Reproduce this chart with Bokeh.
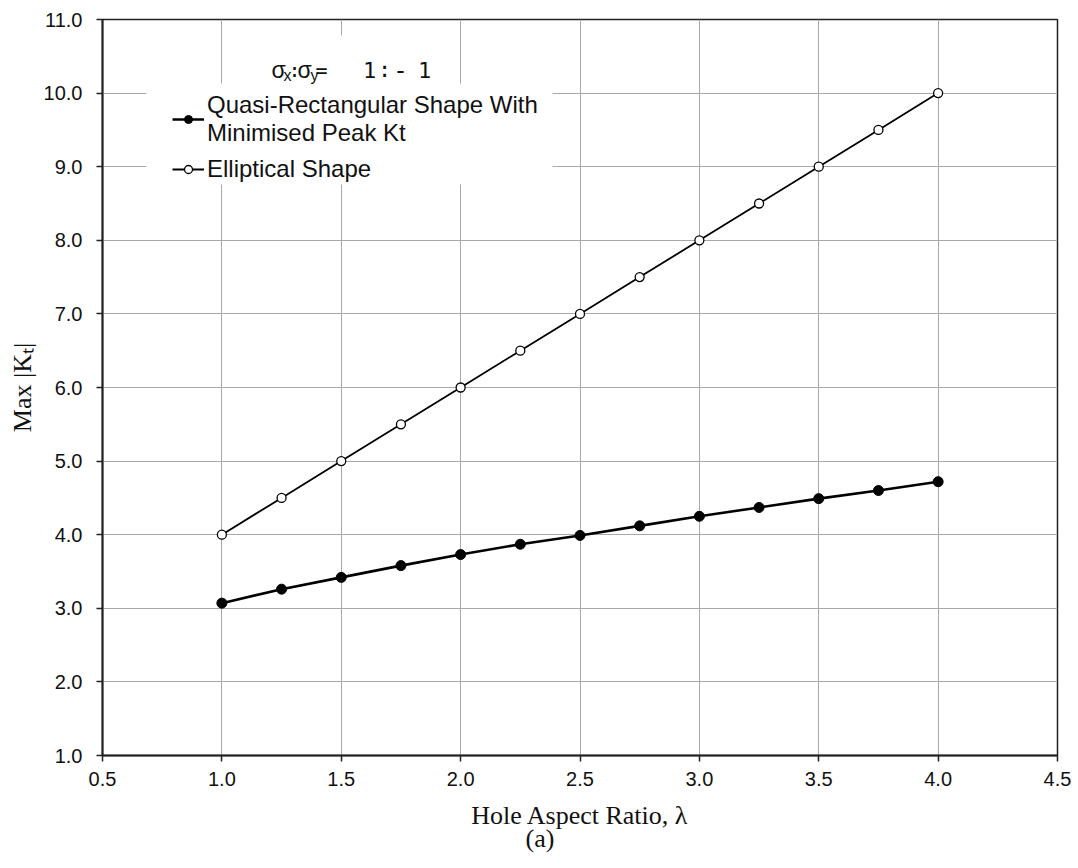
from bokeh.plotting import figure
from bokeh.models import (Label, BoxAnnotation, Legend, LegendItem, FixedTicker,
                          PrintfTickFormatter, Range1d, Title)
from bokeh.embed import file_html
from bokeh.resources import INLINE

# Hole aspect ratio values
aspect_ratio = [1.0, 1.25, 1.5, 1.75, 2.0, 2.25, 2.5, 2.75, 3.0, 3.25, 3.5, 3.75, 4.0]
# Maximum |Kt| for the optimised quasi-rectangular hole
kt_quasi_rect = [3.07, 3.26, 3.42, 3.58, 3.73, 3.87, 3.99, 4.12, 4.25, 4.37, 4.49, 4.60, 4.72]
# Maximum |Kt| for the elliptical hole
kt_elliptical = [4.0, 4.5, 5.0, 5.5, 6.0, 6.5, 7.0, 7.5, 8.0, 8.5, 9.0, 9.5, 10.0]

x_ticks = [0.5, 1.0, 1.5, 2.0, 2.5, 3.0, 3.5, 4.0, 4.5]
y_ticks = [1.0, 2.0, 3.0, 4.0, 5.0, 6.0, 7.0, 8.0, 9.0, 10.0, 11.0]

label_quasi = "Quasi-Rectangular Shape With\nMinimised Peak Kt"
label_ellip = "Elliptical Shape"
x_title = "Hole Aspect Ratio, λ"
y_title = "Max |Kₜ|"
sub_caption = "(a)"

SANS = "Liberation Sans"
SERIF = "Liberation Serif"
MONO = "DejaVu Sans Mono"

FRAME_LEFT, FRAME_BOTTOM = 102, 755


def sx(cx):
    return cx - FRAME_LEFT


def sy(cy):
    return FRAME_BOTTOM - cy


p = figure(width=1078, height=868, x_range=Range1d(0.5, 4.5), y_range=Range1d(1.0, 11.0),
           output_backend="svg", toolbar_location=None, title=None,
           min_border_left=102, min_border_right=21, min_border_top=19, min_border_bottom=113)
p.background_fill_color = "white"
p.border_fill_color = "white"
p.outline_line_color = "#222222"
p.outline_line_width = 1.5

for ax in (p.xaxis[0], p.yaxis[0]):
    ax.axis_line_color = "#222222"
    ax.axis_line_width = 2
    ax.major_tick_line_color = "#222222"
    ax.major_tick_line_width = 1.5
    ax.major_tick_out = 6
    ax.major_tick_in = 0
    ax.minor_tick_out = 0
    ax.minor_tick_in = 0
    ax.major_label_text_font = SANS
    ax.major_label_text_font_size = "20px"
    ax.major_label_text_color = "#111111"
    ax.formatter = PrintfTickFormatter(format="%.1f")
    ax.axis_label_text_font = SERIF
    ax.axis_label_text_font_size = "26px"
    ax.axis_label_text_font_style = "normal"
    ax.axis_label_text_color = "#111111"
    ax.axis_label_text_line_height = 1.0

p.xaxis.ticker = FixedTicker(ticks=x_ticks)
p.yaxis.ticker = FixedTicker(ticks=y_ticks)
p.xaxis.major_label_standoff = 10
p.yaxis.major_label_standoff = 14

p.xaxis.axis_label = x_title
p.xaxis.axis_label_standoff = 12
p.yaxis.axis_label = y_title
p.yaxis.axis_label_standoff = 4

p.add_layout(Title(text=sub_caption, align="left", offset=423, text_font=SERIF,
                   text_font_size="26px", text_font_style="normal",
                   text_line_height=0.9, text_color="#111111", standoff=-21), "below")

p.xgrid.ticker = FixedTicker(ticks=x_ticks)
p.ygrid.ticker = FixedTicker(ticks=y_ticks)
for g in (p.xgrid[0], p.ygrid[0]):
    g.grid_line_color = "#a8a8a8"
    g.grid_line_width = 1

# Data series
l_q = p.line(aspect_ratio, kt_quasi_rect, line_color="black", line_width=2.6)
s_q = p.scatter(aspect_ratio, kt_quasi_rect, size=10, fill_color="black", line_color="black")
l_e = p.line(aspect_ratio, kt_elliptical, line_color="black", line_width=1.8)
s_e = p.scatter(aspect_ratio, kt_elliptical, size=9, fill_color="white", line_color="black",
                line_width=1.3)

# White panels behind the legend and its heading
p.add_layout(BoxAnnotation(left=sx(146), right=sx(552), top=sy(83), bottom=sy(184),
                           left_units="screen", right_units="screen",
                           top_units="screen", bottom_units="screen",
                           fill_color="white", fill_alpha=1, line_color=None))
p.add_layout(BoxAnnotation(left=sx(266), right=sx(444), top=sy(35), bottom=sy(84),
                           left_units="screen", right_units="screen",
                           top_units="screen", bottom_units="screen",
                           fill_color="white", fill_alpha=1, line_color=None))

legend = Legend(items=[LegendItem(label=label_quasi, renderers=[l_q, s_q]),
                       LegendItem(label=label_ellip, renderers=[l_e, s_e])],
                location=(sx(172), sy(183)), padding=5, margin=0, spacing=8,
                glyph_width=32, glyph_height=20, label_standoff=3,
                label_text_font=SANS, label_text_font_size="24px",
                label_text_color="#111111", label_text_line_height=1.0,
                background_fill_color="white", background_fill_alpha=1.0,
                border_line_color=None)
p.add_layout(legend)


def make_text(text, x, y, font, size, align="left"):
    return Label(x=x, y=y, x_units="screen", y_units="screen", text=text,
                 text_font=font, text_font_size=size, text_align=align,
                 text_baseline="alphabetic", text_color="#111111")


# Legend heading: sigma_x : sigma_y = 1:-1
heading = [("σ", 271, 69, SANS, "23px", "left"),
           ("x", 283, 75, SANS, "16px", "left"),
           (":", 294, 69, MONO, "20px", "center"),
           ("σ", 297, 69, SANS, "23px", "left"),
           ("y", 310, 75, SANS, "16px", "left"),
           ("=", 321, 69, MONO, "20px", "center"),
           ("1", 369, 69, MONO, "22px", "center"),
           (":", 384, 69, MONO, "22px", "center"),
           ("-", 400, 69, MONO, "24px", "center"),
           ("1", 424, 69, MONO, "22px", "center")]
for txt, cx, cy, font, size, align in heading:
    p.add_layout(make_text(txt, sx(cx), sy(cy), font, size, align=align))

open("out.html", "w").write(file_html(p, INLINE))
